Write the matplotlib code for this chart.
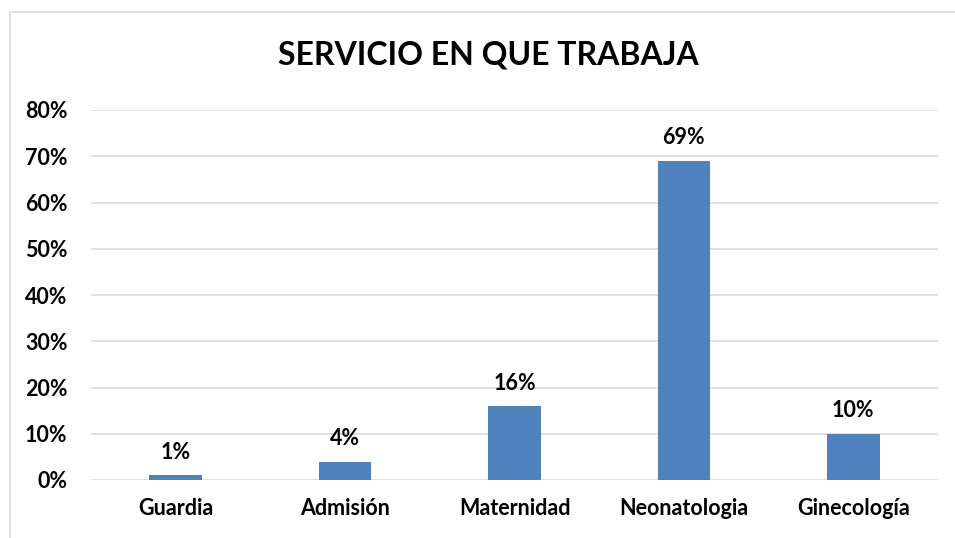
import matplotlib.pyplot as plt
from matplotlib.patches import Rectangle
from matplotlib.ticker import FuncFormatter

categories = ["Guardia", "Admisión", "Maternidad", "Neonatologia", "Ginecología"]
values = [1, 4, 16, 69, 10]
yticks = [0, 10, 20, 30, 40, 50, 60, 70, 80]

plt.rcParams['font.family'] = ['Lato', 'DejaVu Sans']

fig = plt.figure(figsize=(9.55, 5.38), dpi=100)
fig.patches.append(Rectangle((10/955, -0.1), 1.2, 1 - 12/538 + 0.1, transform=fig.transFigure,
                             fill=False, edgecolor='#D9D9D9', linewidth=1.2, zorder=0))
ax = fig.add_axes([91/955, 1 - 480/538, (938 - 91)/955, (480 - 110)/538])

x = range(len(categories))
bars = ax.bar(x, values, width=0.31, color='#4F81BD', zorder=3)
for xi, v in zip(x, values):
    ax.annotate(f"{v}%", (xi, v), xytext=(0, 9), textcoords='offset points',
                ha='center', va='bottom', fontsize=15.5, fontweight='bold', color='#000000')

ax.set_ylim(0, 80)
ax.set_xlim(-0.5, len(categories) - 0.5)
ax.set_yticks(yticks)
ax.yaxis.set_major_formatter(FuncFormatter(lambda v, p: f"{int(v)}%"))
ax.grid(axis='y', color='#D9D9D9', linewidth=1.2, zorder=0)
ax.set_xticks(list(x))
ax.set_xticklabels(categories)
for s in ax.spines.values():
    s.set_visible(False)
ax.tick_params(axis='both', length=0, labelsize=15.5)
ax.tick_params(axis='y', pad=17)
ax.tick_params(axis='x', pad=13)
for lbl in ax.get_xticklabels() + ax.get_yticklabels():
    lbl.set_fontweight('bold')

fig.text(488/955, 1 - 55/538, "SERVICIO EN QUE TRABAJA", ha='center', va='center',
         fontsize=23, fontweight='bold')

fig.savefig("out.png", dpi=100)
